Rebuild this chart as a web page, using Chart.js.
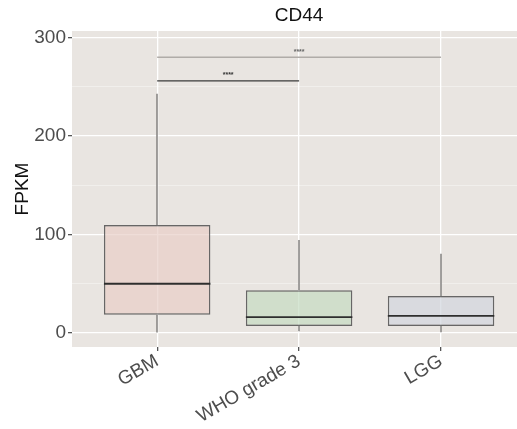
<!DOCTYPE html>
<html>
<head>
<meta charset="utf-8">
<script src="https://cdn.jsdelivr.net/npm/chart.js@4"></script>
<style>
  html, body { margin: 0; padding: 0; background: #fff; }
  #wrap { width: 517px; height: 429px; }
</style>
</head>
<body>
<div id="wrap"><canvas id="box_chart"></canvas></div>
<script>
// values (FPKM)
var categories = ["GBM", "WHO grade 3", "LGG"];
var whisker_low = [0.5, 1.7, 0.7];
var q1_vals = [18.6, 7.1, 7.1];
var median_vals = [50, 16.2, 17.3];
var q3_vals = [109.6, 43.3, 37.6];
var whisker_high = [243, 94.4, 80.5];
var box_colors = ["rgba(232,206,199,0.7)", "rgba(197,220,194,0.7)", "rgba(210,213,222,0.7)"];

// significance brackets
var comp_pairs = [[0, 1], [0, 2]];
var comp_heights = [256, 280];
var comp_labels = ["****", "****"];
var comp_colors = ["#3a3a3a", "#b0aca8"];

var y_ticks = [0, 100, 200, 300];

var FONT = "'Liberation Sans', Arial, sans-serif";

var boxData = {
    datasets: [{
        label: "CD44",
        data: categories.map(function (c, i) {
            return { x: i, y: [q1_vals[i], q3_vals[i]] };
        }),
        backgroundColor: box_colors,
        borderColor: "rgba(80,80,80,0.85)",
        borderWidth: 1.4,
        borderSkipped: false,
        categoryPercentage: 1,
        barPercentage: 0.75
    }]
};

var boxPlugin = {
    id: "boxParts",
    beforeDraw: function (chart) {
        var a = chart.chartArea, ctx = chart.ctx;
        ctx.save();
        ctx.fillStyle = "#e9e5e1";
        ctx.fillRect(a.left, a.top, a.right - a.left, a.bottom - a.top);
        ctx.restore();
    },
    afterDatasetsDraw: function (chart) {
        var ctx = chart.ctx;
        var xs = chart.scales.x, ys = chart.scales.y;
        var bars = chart.getDatasetMeta(0).data;
        ctx.save();
        // whiskers
        ctx.strokeStyle = "#8a8886";
        ctx.lineWidth = 1.6;
        categories.forEach(function (c, i) {
            var px = Math.round(xs.getPixelForValue(i));
            ctx.beginPath();
            ctx.moveTo(px, ys.getPixelForValue(whisker_high[i]));
            ctx.lineTo(px, ys.getPixelForValue(q3_vals[i]));
            ctx.moveTo(px, ys.getPixelForValue(q1_vals[i]));
            ctx.lineTo(px, ys.getPixelForValue(whisker_low[i]));
            ctx.stroke();
        });
        // medians
        ctx.strokeStyle = "#2e2e2e";
        ctx.lineWidth = 1.8;
        categories.forEach(function (c, i) {
            var px = xs.getPixelForValue(i);
            var half = bars[i].width / 2;
            var py = ys.getPixelForValue(median_vals[i]);
            ctx.beginPath();
            ctx.moveTo(px - half, py);
            ctx.lineTo(px + half, py);
            ctx.stroke();
        });
        // brackets
        comp_pairs.forEach(function (p, k) {
            var x1 = xs.getPixelForValue(p[0]);
            var x2 = xs.getPixelForValue(p[1]);
            var py = ys.getPixelForValue(comp_heights[k]);
            ctx.strokeStyle = comp_colors[k];
            ctx.lineWidth = 1.4;
            ctx.beginPath();
            ctx.moveTo(x1, py);
            ctx.lineTo(x2, py);
            ctx.stroke();
            ctx.fillStyle = k === 0 ? "#333" : "#666";
            ctx.font = "bold 7px " + FONT;
            ctx.textAlign = "center";
            ctx.textBaseline = "bottom";
            ctx.fillText(comp_labels[k], (x1 + x2) / 2, py - 2);
        });
        ctx.restore();
    },
    afterDraw: function (chart) {
        var ctx = chart.ctx, xs = chart.scales.x;
        ctx.save();
        ctx.fillStyle = "#111";
        ctx.font = "19px " + FONT;
        ctx.textAlign = "center";
        ctx.textBaseline = "middle";
        ctx.fillText("CD44", xs.getPixelForValue(1), chart.chartArea.top / 2);
        ctx.restore();
    }
};

var ctx_box = document.getElementById("box_chart");
var box_g = new Chart(ctx_box, {
    type: "bar",
    data: boxData,
    plugins: [boxPlugin],
    options: {
        responsive: true,
        maintainAspectRatio: false,
        animation: false,
        layout: { padding: { top: 31, right: 0, bottom: 0, left: 0 } },
        plugins: {
            legend: { display: false },
            tooltip: { enabled: false },
            title: { display: false }
        },
        scales: {
            x: {
                type: "linear",
                min: -0.6,
                max: 2.535,
                offset: false,
                afterFit: function (s) { s.height = 82; },
                border: { display: false },
                grid: {
                    offset: false,
                    color: "#ffffff",
                    lineWidth: 1.3,
                    tickColor: "#555",
                    tickLength: 4
                },
                ticks: {
                    stepSize: 1,
                    includeBounds: false,
                    autoSkip: false,
                    minRotation: 30,
                    maxRotation: 30,
                    padding: -1,
                    color: "#4d4d4d",
                    font: { family: FONT, size: 19 },
                    callback: function (v) { return categories[v]; }
                }
            },
            y: {
                min: -14.2,
                max: 306.6,
                afterFit: function (s) { s.width = 72; },
                border: { display: false },
                grid: {
                    color: function (c) {
                        return c.tick && c.tick.value % 100 === 0 ? "#ffffff" : "rgba(255,255,255,0.55)";
                    },
                    lineWidth: function (c) {
                        return c.tick && c.tick.value % 100 === 0 ? 1.3 : 0.7;
                    },
                    tickColor: function (c) {
                        return c.tick && c.tick.value % 100 === 0 ? "#555" : "rgba(0,0,0,0)";
                    },
                    tickLength: 4
                },
                ticks: {
                    stepSize: 50,
                    includeBounds: false,
                    padding: 2,
                    color: "#4d4d4d",
                    font: { family: FONT, size: 19 },
                    callback: function (v) { return y_ticks.indexOf(v) >= 0 ? String(v) : ""; }
                },
                title: {
                    display: true,
                    text: "FPKM",
                    color: "#111",
                    font: { family: FONT, size: 19 },
                    padding: { top: 11, bottom: 0 }
                }
            }
        }
    }
});
</script>
</body>
</html>
